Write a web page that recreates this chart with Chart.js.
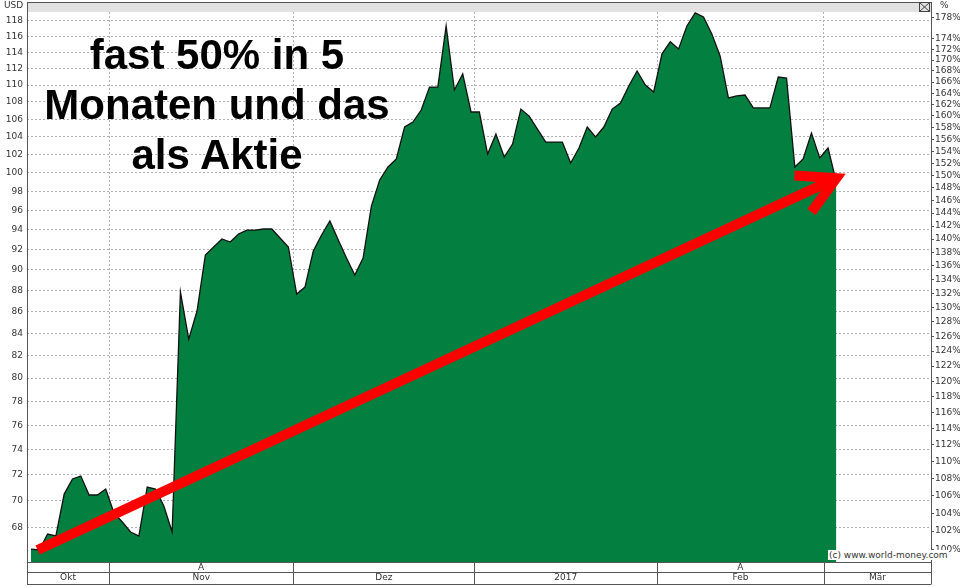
<!DOCTYPE html>
<html><head><meta charset="utf-8">
<script src="https://cdn.jsdelivr.net/npm/chart.js@4"></script>
<style>
body{margin:0;background:#fff;}
#wrap{position:relative;width:960px;height:587px;}
.t{position:absolute;font-family:"DejaVu Sans",sans-serif;color:#333;}
#title{position:absolute;left:17px;top:30px;width:400px;text-align:center;font:bold 42px "Liberation Sans",Arial,sans-serif;line-height:50px;color:#000;}
</style></head><body>
<div id="wrap">
<canvas id="c" width="960" height="587"></canvas>
<div class="t" style="left:4px;top:0px;font-size:9px">USD</div>
<div class="t" style="left:940px;top:0px;font-size:9px">%</div>
<div id="title">fast 50% in 5<br>Monaten und das<br>als Aktie</div>
<div class="t" style="left:828px;top:550px;font-size:9px;background:#fff;padding:0 1px">(c) www.world-money.com</div>
</div>
<script>
const prices = [66.43,66.36,67.52,67.38,70.52,71.69,71.92,70.45,70.45,70.91,69.08,68.41,67.67,67.38,71.06,70.91,69.61,67.67,
87.84,83.46,86.05,91.45,92.25,93.06,92.75,93.56,93.96,93.96,94.07,94.07,93.16,92.25,87.65,88.32,91.85,93.46,94.89,92.97,91.15,89.48,91.15,96.45,99.22,100.63,101.51,105.10,105.67,107.06,109.77,109.77,117.30,109.42,111.34,106.83,106.83,102.06,104.29,101.73,103.17,107.17,106.36,104.87,103.40,103.40,103.40,101.07,102.73,105.10,103.97,105.10,107.17,107.88,109.89,111.70,110.01,109.18,113.80,115.30,114.42,117.30,118.99,118.47,116.30,113.55,108.47,108.71,108.82,107.30,107.30,107.30,110.97,110.85,100.63,101.51,104.41,101.62,102.73,99.00];
const monthLabels = ["Okt","Nov","Dez","2017","Feb","Mär"];
const monthStarts = [-0.48, 9.4, 31.6, 53.4, 75.4, 95.5, 108.4];
const usdTicks = []; for(let v=68; v<=118; v+=2) usdTicks.push(v);
const pctTicks = []; for(let v=100; v<=178; v+=2) if(v!==176) pctTicks.push(v);
const arrowFrom = {x:0.8, y:66.36};
const arrowTo = {x:97, y:99.42};

const pts = prices.map((v,i)=>({x:i,y:v}));
const bounds = monthStarts.slice(1,-1);
const centers = monthLabels.map((_,i)=>(monthStarts[i]+monthStarts[i+1])/2);
const aCenters = [centers[1], centers[4]];
const font = {family:"DejaVu Sans", size:9};

const deco = {
  id:'deco',
  beforeDraw(ch){
    const {ctx, chartArea:a} = ch;
    ctx.save();
    ctx.fillStyle='#e2e2e2'; ctx.fillRect(a.left,2,a.right-a.left,a.top-2);
    ctx.restore();
  },
  afterDraw(ch){
    const {ctx, chartArea:a, scales} = ch;
    const xs = scales.x;
    ctx.save();
    ctx.setLineDash([]);
    ctx.strokeStyle='#555'; ctx.lineWidth=1;
    ctx.strokeRect(a.left+0.5,2.5,a.right-a.left,a.bottom-2);
    const b1=a.bottom+10.5, b2=584.5;
    ctx.beginPath();
    ctx.moveTo(a.left,a.bottom+0.5);ctx.lineTo(a.right,a.bottom+0.5);
    ctx.moveTo(a.left,b1);ctx.lineTo(a.right,b1);
    ctx.moveTo(a.left,b2);ctx.lineTo(a.right,b2);
    ctx.moveTo(a.left+0.5,a.bottom);ctx.lineTo(a.left+0.5,b2);
    ctx.moveTo(a.right+0.5,a.bottom);ctx.lineTo(a.right+0.5,b2);
    bounds.forEach(v=>{const p=Math.round(xs.getPixelForValue(v))+0.5;ctx.moveTo(p,a.bottom);ctx.lineTo(p,b2);});
    ctx.stroke();
    ctx.strokeStyle='#444';
    ctx.strokeRect(a.right-11.5,2.5,10,9);
    ctx.beginPath();ctx.moveTo(a.right-11.5,2.5);ctx.lineTo(a.right-1.5,11.5);ctx.moveTo(a.right-1.5,2.5);ctx.lineTo(a.right-11.5,11.5);ctx.stroke();
    const ys=scales.y;
    const x0=xs.getPixelForValue(arrowFrom.x), y0=ys.getPixelForValue(arrowFrom.y);
    const x1=xs.getPixelForValue(arrowTo.x), y1=ys.getPixelForValue(arrowTo.y);
    const ang=Math.atan2(y1-y0,x1-x0), L=42, sp=0.5;
    ctx.strokeStyle='#ff0000'; ctx.lineWidth=10; ctx.lineCap='butt'; ctx.lineJoin='miter';
    ctx.beginPath();
    ctx.moveTo(x1-L*Math.cos(ang-sp), y1-L*Math.sin(ang-sp));
    ctx.lineTo(x1,y1);
    ctx.lineTo(x1-L*Math.cos(ang+sp), y1-L*Math.sin(ang+sp));
    ctx.stroke();
    ctx.restore();
  }
};

new Chart(document.getElementById('c'),{
  type:'line',
  data:{datasets:[
    {data:pts, order:2, borderColor:'#111', borderWidth:1.3, backgroundColor:'#03803f', fill:'start', pointRadius:0, tension:0, yAxisID:'y', xAxisID:'x'},
    {data:[arrowFrom, arrowTo], order:1, borderColor:'#ff0000', borderWidth:10, fill:false, pointRadius:0, yAxisID:'y', xAxisID:'x', borderCapStyle:'butt'}
  ]},
  options:{
    responsive:false, animation:false, events:[],
    layout:{padding:{top:12,bottom:3,left:0,right:0}},
    plugins:{legend:{display:false},tooltip:{enabled:false}},
    scales:{
      x:{type:'linear',position:'bottom',min:monthStarts[0],max:monthStarts[6],
        afterBuildTicks:s=>{s.ticks=bounds.concat(aCenters).map(v=>({value:v}));},
        afterFit:s=>{s.height=10;},
        ticks:{autoSkip:false,maxRotation:0,font:font,color:'#333',padding:0,
          callback:(v)=>aCenters.includes(v)?'A':''},
        grid:{drawTicks:false,tickLength:0,color:c=>aCenters.includes(c.tick&&c.tick.value)?'rgba(0,0,0,0)':'#b0b0b0',lineWidth:1},
        border:{display:false,dash:[2,2]}
      },
      x2:{type:'linear',position:'bottom',min:monthStarts[0],max:monthStarts[6],
        afterBuildTicks:s=>{s.ticks=centers.map(v=>({value:v}));},
        afterFit:s=>{s.height=12;},
        ticks:{autoSkip:false,maxRotation:0,font:font,color:'#333',padding:0,
          callback:(v)=>monthLabels[centers.indexOf(v)]},
        grid:{display:false,drawTicks:false,tickLength:0},border:{display:false}
      },
      y:{type:'logarithmic',position:'left',min:65.5,max:119.1,
        afterBuildTicks:s=>{s.ticks=usdTicks.map(v=>({value:v}));},
        afterFit:s=>{s.width=27;},
        ticks:{autoSkip:false,font:font,color:'#333',padding:4,callback:v=>String(v)},
        grid:{drawTicks:false,color:'#b0b0b0'},
        border:{display:false,dash:[2,2]}
      },
      y2:{type:'logarithmic',position:'right',min:98.64,max:179.1,
        afterBuildTicks:s=>{s.ticks=pctTicks.map(v=>({value:v}));},
        afterFit:s=>{s.width=29;},
        ticks:{autoSkip:false,font:font,color:'#333',padding:1,callback:v=>v+'%'},
        grid:{drawOnChartArea:false,tickLength:3,color:'#555'},
        border:{display:false}
      }
    }
  },
  plugins:[deco]
});
</script>
</body></html>
